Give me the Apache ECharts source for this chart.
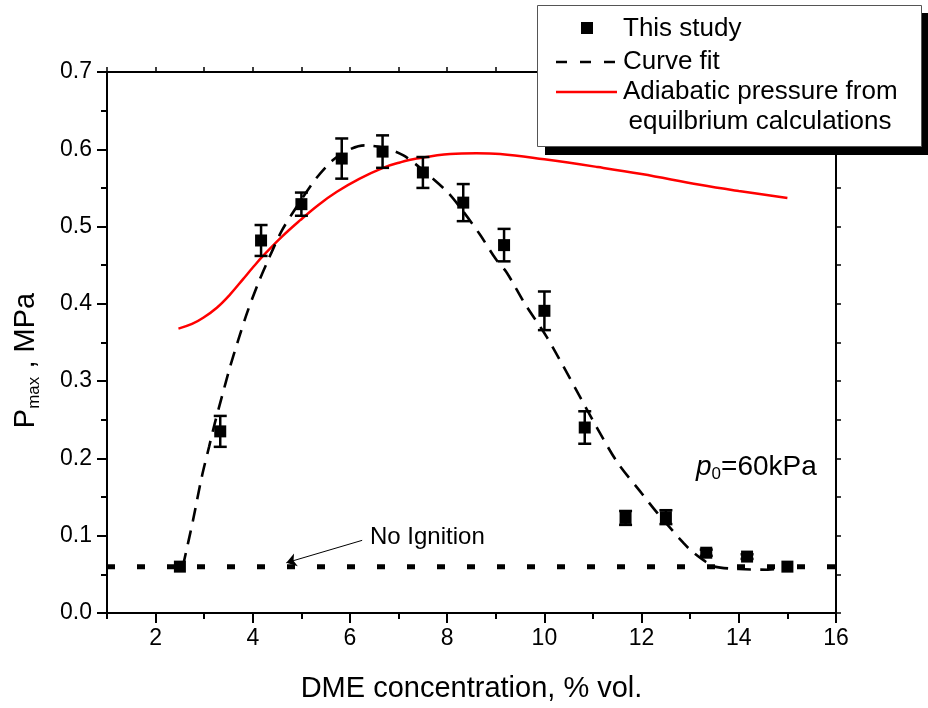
<!DOCTYPE html>
<html><head><meta charset="utf-8">
<script src="https://cdn.jsdelivr.net/npm/echarts@6/dist/echarts.min.js"></script>
<style>html,body{margin:0;padding:0;background:#fff}#c{width:928px;height:708px}</style>
</head><body><div id="c"></div>
<script>
const FONT = 'Liberation Sans, Arial, Helvetica, sans-serif';

// ---- data ----
const xTickValues = [2, 4, 6, 8, 10, 12, 14, 16];
const xMinorValues = [1, 3, 5, 7, 9, 11, 13, 15];

const studyX   = [2.5, 3.33, 4.17, 5.0, 5.83, 6.67, 7.5, 8.33, 9.17, 10.0, 10.83, 11.67, 12.5, 13.33, 14.17, 15.0];
const studyY   = [0.060, 0.235, 0.482, 0.529, 0.588, 0.597, 0.570, 0.531, 0.476, 0.391, 0.240, 0.123, 0.124, 0.078, 0.073, 0.060];
const studyErr = [0, 0.020, 0.020, 0.015, 0.026, 0.021, 0.020, 0.024, 0.021, 0.025, 0.021, 0.009, 0.009, 0.004, 0.003, 0];

const fitX = [2.56, 2.77, 2.95, 3.10, 3.22, 3.36, 3.53, 3.70, 3.88, 4.10, 4.29, 4.60, 4.97, 5.30, 5.65, 6.00, 6.30, 6.70, 7.10, 7.50, 8.00, 8.30, 8.67, 9.00, 9.23, 9.60, 10.05, 10.40, 10.73, 11.08, 11.50, 12.00, 12.33, 12.87, 13.05, 13.28, 13.50, 14.00, 14.60, 14.90];
const fitY = [0.060, 0.120, 0.176, 0.215, 0.246, 0.279, 0.318, 0.353, 0.388, 0.425, 0.453, 0.495, 0.532, 0.562, 0.586, 0.600, 0.605, 0.602, 0.592, 0.573, 0.545, 0.522, 0.490, 0.458, 0.440, 0.400, 0.357, 0.318, 0.280, 0.240, 0.195, 0.155, 0.129, 0.090, 0.079, 0.068, 0.060, 0.057, 0.056, 0.058];

const adiabaticX = [2.47, 2.75, 2.98, 3.26, 3.53, 3.80, 4.00, 4.21, 4.60, 4.97, 5.35, 5.73, 6.20, 6.68, 7.03, 7.37, 8.06, 8.60, 9.09, 10.00, 11.10, 12.00, 13.20, 14.00, 15.00];
const adiabaticY = [0.368, 0.374, 0.382, 0.395, 0.412, 0.432, 0.447, 0.462, 0.487, 0.508, 0.528, 0.545, 0.562, 0.576, 0.583, 0.588, 0.594, 0.595, 0.594, 0.587, 0.577, 0.568, 0.554, 0.546, 0.537];

const noIgnitionX = [1, 16];
const noIgnitionY = [0.06, 0.06];
const arrowFrom = [6.25, 0.094];
const arrowTo = [4.69, 0.065];

const legendNames = ['This study', 'Curve fit', 'Adiabatic pressure from', 'equilbrium calculations'];
const xTitle = 'DME concentration, % vol.';
const annotationText = 'No Ignition';

// ---- build ----
const zip = (xs, ys) => xs.map((x, i) => [x, ys[i]]);
const errData = studyX.map((x, i) => [x, studyY[i] - studyErr[i], studyY[i] + studyErr[i]]);

const axisLine = { show: true, onZero: false, lineStyle: { color: '#000', width: 2 } };
const txt = { fontFamily: FONT, color: '#000' };

const chart = echarts.init(document.getElementById('c'), null, { renderer: 'canvas' });
chart.setOption({
  animation: false,
  backgroundColor: '#fff',
  grid: { left: 107, right: 92, top: 72, bottom: 95, containLabel: false },
  xAxis: [
    {
      type: 'value', min: 1, max: 16, position: 'bottom',
      axisLine,
      axisTick: { show: true, customValues: xTickValues, length: 10, inside: false, lineStyle: { color: '#000', width: 2 } },
      axisLabel: { show: true, customValues: xTickValues, fontSize: 23, margin: 14, ...txt },
      splitLine: { show: false },
      name: xTitle, nameLocation: 'middle', nameGap: 61,
      nameTextStyle: { fontSize: 29, ...txt }
    },
    {
      type: 'value', min: 1, max: 16, position: 'bottom',
      axisLine: { show: false },
      axisTick: { show: true, customValues: xMinorValues, length: 6, inside: false, lineStyle: { color: '#000', width: 2 } },
      axisLabel: { show: false }, splitLine: { show: false }
    },
    {
      type: 'value', min: 1, max: 16, interval: 1, position: 'top',
      axisLine,
      axisTick: { show: true, length: 5, inside: false, lineStyle: { color: '#000', width: 1.5 } },
      axisLabel: { show: false }, splitLine: { show: false }
    }
  ],
  yAxis: [
    {
      type: 'value', min: 0, max: 0.7, interval: 0.1, position: 'left',
      axisLine,
      axisTick: { show: true, length: 10, inside: false, lineStyle: { color: '#000', width: 2 } },
      minorTick: { show: true, splitNumber: 2, length: 6, lineStyle: { color: '#000', width: 2 } },
      axisLabel: { fontSize: 23, margin: 15, formatter: v => v.toFixed(1), ...txt },
      splitLine: { show: false }, minorSplitLine: { show: false },
      name: '{a|P}{b|max}{a| , MPa}', nameLocation: 'middle', nameGap: 64, nameRotate: 90,
      nameTextStyle: {
        ...txt,
        padding: [0, 36, 0, 0],
        rich: {
          a: { fontSize: 29, fontFamily: FONT, color: '#000', lineHeight: 34 },
          b: { fontSize: 17, fontFamily: FONT, color: '#000', lineHeight: 17, verticalAlign: 'bottom' }
        }
      }
    },
    {
      type: 'value', min: 0, max: 0.7, interval: 0.05, position: 'right',
      axisLine,
      axisTick: { show: true, length: 5, inside: false, lineStyle: { color: '#000', width: 1.5 } },
      axisLabel: { show: false }, splitLine: { show: false }
    }
  ],
  series: [
    {
      name: 'No ignition', type: 'line', data: zip(noIgnitionX, noIgnitionY),
      showSymbol: false, symbol: 'none', silent: true, z: 2,
      lineStyle: { color: '#000', width: 5, type: [8, 22], cap: 'butt' },
      markLine: {
        silent: true, symbol: ['none', 'arrow'], symbolSize: 10,
        lineStyle: { color: '#000', width: 1, type: 'solid' },
        label: { show: false },
        data: [[{ coord: arrowFrom }, { coord: arrowTo }]]
      }
    },
    {
      name: legendNames[2] + ' ' + legendNames[3], type: 'line', data: zip(adiabaticX, adiabaticY),
      smooth: 0.4, showSymbol: false, symbol: 'none', z: 3,
      lineStyle: { color: '#ff0000', width: 2.5 }
    },
    {
      name: legendNames[1], type: 'line', data: zip(fitX, fitY),
      smooth: 0.3, showSymbol: false, symbol: 'none', z: 4,
      lineStyle: { color: '#000', width: 2.6, type: [14, 9], cap: 'butt' }
    },
    {
      name: 'error', type: 'custom', data: errData, z: 5,
      encode: { x: 0, y: [1, 2] },
      renderItem: (params, api) => {
        const x = api.value(0), lo = api.value(1), hi = api.value(2);
        if (!(hi - lo > 0)) return null;
        const p1 = api.coord([x, lo]), p2 = api.coord([x, hi]);
        const w = 6.5;
        const style = { stroke: '#000', lineWidth: 2.5 };
        return {
          type: 'group', children: [
            { type: 'line', shape: { x1: p1[0], y1: p1[1], x2: p2[0], y2: p2[1] }, style },
            { type: 'line', shape: { x1: p1[0] - w, y1: p1[1], x2: p1[0] + w, y2: p1[1] }, style },
            { type: 'line', shape: { x1: p2[0] - w, y1: p2[1], x2: p2[0] + w, y2: p2[1] }, style }
          ]
        };
      }
    },
    {
      name: legendNames[0], type: 'scatter', data: zip(studyX, studyY),
      symbol: 'rect', symbolSize: 12, z: 6,
      itemStyle: { color: '#000', opacity: 1 }
    }
  ],
  graphic: [
    { type: 'text', left: 370, top: 525, z: 50, style: { text: annotationText, font: '24px ' + FONT, fill: '#000' } },
    { type: 'text', left: 696, top: 453, z: 50, style: {
        text: '{i|p}{s|0}{n|=60kPa}',
        rich: {
          i: { fontSize: 28, fontStyle: 'italic', fontFamily: FONT, fill: '#000', lineHeight: 32 },
          s: { fontSize: 17, fontFamily: FONT, fill: '#000', lineHeight: 14, verticalAlign: 'bottom' },
          n: { fontSize: 28, fontFamily: FONT, fill: '#000', lineHeight: 32 }
        }
      } },
    // legend box
    { type: 'rect', z: 100, shape: { x: 545, y: 13, width: 385, height: 142 }, style: { fill: '#000' } },
    { type: 'rect', z: 101, shape: { x: 537.5, y: 5.5, width: 384, height: 141 }, style: { fill: '#fff', stroke: '#555', lineWidth: 1 } },
    { type: 'rect', z: 102, shape: { x: 581, y: 22, width: 12, height: 12 }, style: { fill: '#000' } },
    { type: 'line', z: 102, shape: { x1: 556, y1: 62, x2: 617, y2: 62 }, style: { stroke: '#000', lineWidth: 2.6, lineDash: [11, 13] } },
    { type: 'line', z: 102, shape: { x1: 556, y1: 92, x2: 617, y2: 92 }, style: { stroke: '#ff0000', lineWidth: 2.5 } },
    { type: 'text', z: 102, x: 623, y: 29, style: { text: legendNames[0], font: '26px ' + FONT, fill: '#000', verticalAlign: 'middle' } },
    { type: 'text', z: 102, x: 623, y: 62, style: { text: legendNames[1], font: '26px ' + FONT, fill: '#000', verticalAlign: 'middle' } },
    { type: 'text', z: 102, x: 623, y: 92, style: { text: legendNames[2], font: '26px ' + FONT, fill: '#000', verticalAlign: 'middle' } },
    { type: 'text', z: 102, x: 760, y: 122, style: { text: legendNames[3], font: '26px ' + FONT, fill: '#000', verticalAlign: 'middle', align: 'center' } }
  ]
});
</script>
</body></html>
